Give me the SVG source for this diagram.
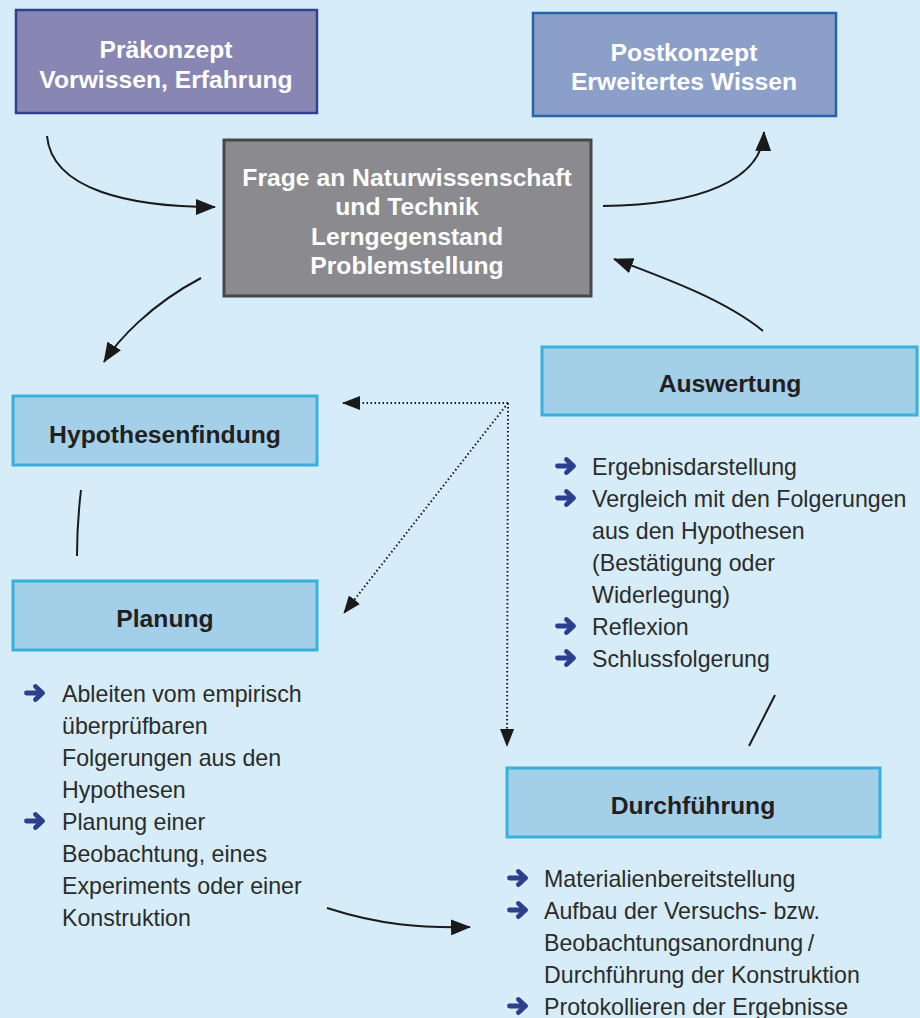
<svg xmlns="http://www.w3.org/2000/svg" width="920" height="1018" viewBox="0 0 920 1018">
<style>
.bg{fill:#d6edf9}
.lbl{font-family:"Liberation Sans",Arial,sans-serif;font-weight:bold;font-size:24.7px;text-anchor:middle}
.wt{fill:#ffffff}
.dk{fill:#231f20}
.body{font-family:"Liberation Sans",Arial,sans-serif;font-size:23.2px;fill:#2b2b2b}
.lb{fill:#a3cfe8;stroke:#38b0dc;stroke-width:3}
.con{fill:none;stroke:#1a1a1a;stroke-width:2}
.dot{fill:none;stroke:#1a1a1a;stroke-width:2;stroke-dasharray:1.5 2.5}
.bul{fill:none;stroke:#2b3f8c;stroke-width:4.8;stroke-linecap:round;stroke-linejoin:round}
</style>
<defs>
<marker id="ah" markerUnits="userSpaceOnUse" markerWidth="20" markerHeight="16" refX="19" refY="8" orient="auto">
<path d="M0,0 L20,8 L0,16 z" fill="#1a1a1a"/>
</marker>
<marker id="ahs" markerUnits="userSpaceOnUse" markerWidth="18" markerHeight="14" refX="17" refY="7" orient="auto">
<path d="M0,0 L18,7 L0,14 z" fill="#1a1a1a"/>
</marker>
<g id="b">
<path class="bul" d="M2.5,0 L18,0 M11.5,-6.5 L18.5,0 L11.5,6.5"/>
</g>
</defs>
<rect class="bg" x="0" y="0" width="920" height="1018"/>

<g id="connectors">
<path class="con" d="M47,136 C52,190 130,207 215,207" marker-end="url(#ah)"/>
<path class="con" d="M603,206 C700,205 762,180 764,132" marker-end="url(#ah)"/>
<path class="con" d="M763,331 C725,300 665,278 614,259" marker-end="url(#ah)"/>
<path class="con" d="M201,278 C150,305 118,340 104,362" marker-end="url(#ah)"/>
<path class="con" d="M81,490 C78,515 77,535 77,556"/>
<path class="con" d="M327,908 C380,925 420,928 470,927" marker-end="url(#ah)"/>
<path class="con" d="M749,746 L775,695"/>
<path class="dot" d="M508,403 L343,403" marker-end="url(#ahs)"/>
<path class="dot" d="M508,403 L344,613" marker-end="url(#ahs)"/>
<path class="dot" d="M508,403 L507,746" marker-end="url(#ahs)"/>
</g>

<g id="praekonzept">
<rect x="16" y="10" width="301" height="103" fill="#8886b2" stroke="#2e4290" stroke-width="2.5"/>
<text class="lbl wt" x="166" y="58">Präkonzept</text>
<text class="lbl wt" x="166" y="88">Vorwissen, Erfahrung</text>
</g>

<g id="postkonzept">
<rect x="533" y="13" width="303" height="103" fill="#8b9fc9" stroke="#2764a8" stroke-width="2.5"/>
<text class="lbl wt" x="684" y="61">Postkonzept</text>
<text class="lbl wt" x="684" y="90">Erweitertes Wissen</text>
</g>

<g id="frage">
<rect x="224" y="140" width="367" height="156" fill="#8b8a8f" stroke="#48474b" stroke-width="3"/>
<text class="lbl wt" x="407" y="186">Frage an Naturwissenschaft</text>
<text class="lbl wt" x="407" y="215">und Technik</text>
<text class="lbl wt" x="407" y="245">Lerngegenstand</text>
<text class="lbl wt" x="407" y="274">Problemstellung</text>
</g>

<g id="hypothesenfindung">
<rect class="lb" x="13" y="396" width="304" height="69"/>
<text class="lbl dk" x="165" y="443">Hypothesenfindung</text>
</g>

<g id="planung">
<rect class="lb" x="13" y="581" width="304" height="69"/>
<text class="lbl dk" x="165" y="627">Planung</text>
<use href="#b" x="24" y="693"/>
<use href="#b" x="24" y="821"/>
<text class="body" x="62" y="702">Ableiten vom empirisch</text>
<text class="body" x="62" y="734">überprüfbaren</text>
<text class="body" x="62" y="766">Folgerungen aus den</text>
<text class="body" x="62" y="798">Hypothesen</text>
<text class="body" x="62" y="830">Planung einer</text>
<text class="body" x="62" y="862">Beobachtung, eines</text>
<text class="body" x="62" y="894">Experiments oder einer</text>
<text class="body" x="62" y="926">Konstruktion</text>
</g>

<g id="auswertung">
<rect class="lb" x="542" y="347" width="375" height="68"/>
<text class="lbl dk" x="730" y="392">Auswertung</text>
<use href="#b" x="555" y="466"/>
<use href="#b" x="555" y="498"/>
<use href="#b" x="555" y="626"/>
<use href="#b" x="555" y="658"/>
<text class="body" x="592" y="475">Ergebnisdarstellung</text>
<text class="body" x="592" y="507">Vergleich mit den Folgerungen</text>
<text class="body" x="592" y="539">aus den Hypothesen</text>
<text class="body" x="592" y="571">(Bestätigung oder</text>
<text class="body" x="592" y="603">Widerlegung)</text>
<text class="body" x="592" y="635">Reflexion</text>
<text class="body" x="592" y="667">Schlussfolgerung</text>
</g>

<g id="durchfuehrung">
<rect class="lb" x="507" y="768" width="373" height="69"/>
<text class="lbl dk" x="693" y="814">Durchführung</text>
<use href="#b" x="507" y="878"/>
<use href="#b" x="507" y="910"/>
<use href="#b" x="507" y="1006"/>
<text class="body" x="544" y="887">Materialienbereitstellung</text>
<text class="body" x="544" y="919">Aufbau der Versuchs- bzw.</text>
<text class="body" x="544" y="951">Beobachtungsanordnung&#8201;/</text>
<text class="body" x="544" y="983">Durchführung der Konstruktion</text>
<text class="body" x="544" y="1015">Protokollieren der Ergebnisse</text>
</g>
</svg>
